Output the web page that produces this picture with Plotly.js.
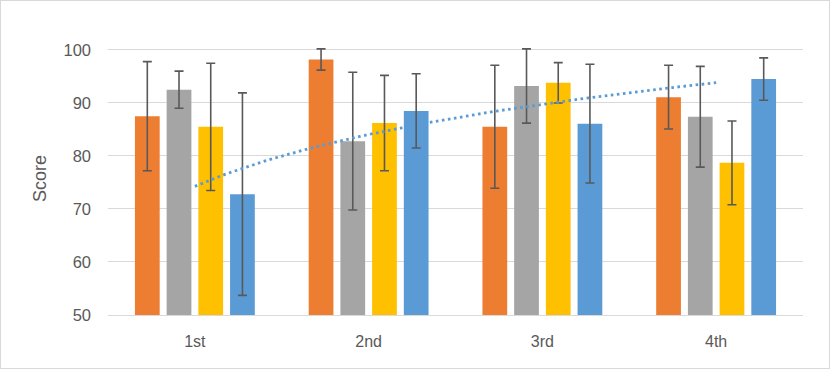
<!DOCTYPE html>
<html>
<head>
<meta charset="utf-8">
<script src="https://cdn.plot.ly/plotly-3.0.1.min.js"></script>
<style>
html,body{margin:0;padding:0;background:#fff;}
#chart{width:828px;height:367px;border:1px solid #D9D9D9;}
</style>
</head>
<body>
<div id="chart"></div>
<script>
// Data
const categories = ["1st", "2nd", "3rd", "4th"];
const positions = [1, 2, 3, 4];

const orangeValues = [87.5, 98.2, 85.5, 91.1];
const orangeErrors = [10.3, 2.0, 11.6, 6.0];

const grayValues = [92.5, 82.8, 93.2, 87.4];
const grayErrors = [3.5, 13.0, 7.0, 9.5];

const yellowValues = [85.5, 86.2, 93.8, 78.7];
const yellowErrors = [12.0, 9.0, 3.8, 7.9];

const blueValues = [72.8, 88.5, 86.1, 94.5];
const blueErrors = [19.1, 7.0, 11.2, 4.0];

const colors = {orange:"#ED7D31", gray:"#A5A5A5", yellow:"#FFC000", blue:"#5B9BD5"};

function barTrace(vals, errs, color){
  return {
    type:"bar", x:positions, y:vals, cliponaxis:false,
    marker:{color:color},
    error_y:{type:"data", array:errs, visible:true, color:"#595959", thickness:1.6, width:4.5},
    hoverinfo:"skip", showlegend:false
  };
}

// Logarithmic trendline fitted to the blue series (as in the spreadsheet)
const lx = positions.map(Math.log);
const mx = lx.reduce((a,b)=>a+b,0)/lx.length;
const my = blueValues.reduce((a,b)=>a+b,0)/blueValues.length;
let sxy=0, sxx=0;
for(let i=0;i<lx.length;i++){ sxy+=(lx[i]-mx)*(blueValues[i]-my); sxx+=(lx[i]-mx)*(lx[i]-mx); }
const slope = sxy/sxx, intercept = my - slope*mx;
const tx=[], ty=[];
for(let i=0;i<=60;i++){ const x=1+3*i/60; tx.push(x); ty.push(intercept+slope*Math.log(x)); }

const data = [
  barTrace(orangeValues, orangeErrors, colors.orange),
  barTrace(grayValues, grayErrors, colors.gray),
  barTrace(yellowValues, yellowErrors, colors.yellow),
  barTrace(blueValues, blueErrors, colors.blue),
  {type:"scatter", mode:"lines", x:tx, y:ty,
   line:{color:colors.blue, width:2.8, dash:"2.6px,3.5px"},
   hoverinfo:"skip", showlegend:false}
];

const layout = {
  width:828, height:367,
  margin:{l:107, r:26, t:41, b:53},
  paper_bgcolor:"#fff", plot_bgcolor:"#fff",
  barmode:"group", bargap:0.27, bargroupgap:0.22,
  font:{family:"Liberation Sans, Arial, sans-serif", color:"#595959", size:16},
  xaxis:{
    range:[0.5,4.5], tickvals:positions, ticktext:categories,
    showgrid:false, zeroline:false, showline:true, linecolor:"#D9D9D9", linewidth:1,
    ticks:"", ticklabelstandoff:12, tickfont:{size:16, color:"#595959"}, fixedrange:true
  },
  yaxis:{
    range:[50,101.5], tickvals:[50,60,70,80,90,100], showgrid:true, gridcolor:"#D9D9D9", gridwidth:1,
    zeroline:false, showline:false, ticks:"", ticklabelstandoff:16,
    tickfont:{size:16.5, color:"#595959"},
    title:{text:"Score", font:{size:18, color:"#595959"}, standoff:12}, fixedrange:true
  }
};

Plotly.newPlot("chart", data, layout, {staticPlot:true, displayModeBar:false});
</script>
</body>
</html>
